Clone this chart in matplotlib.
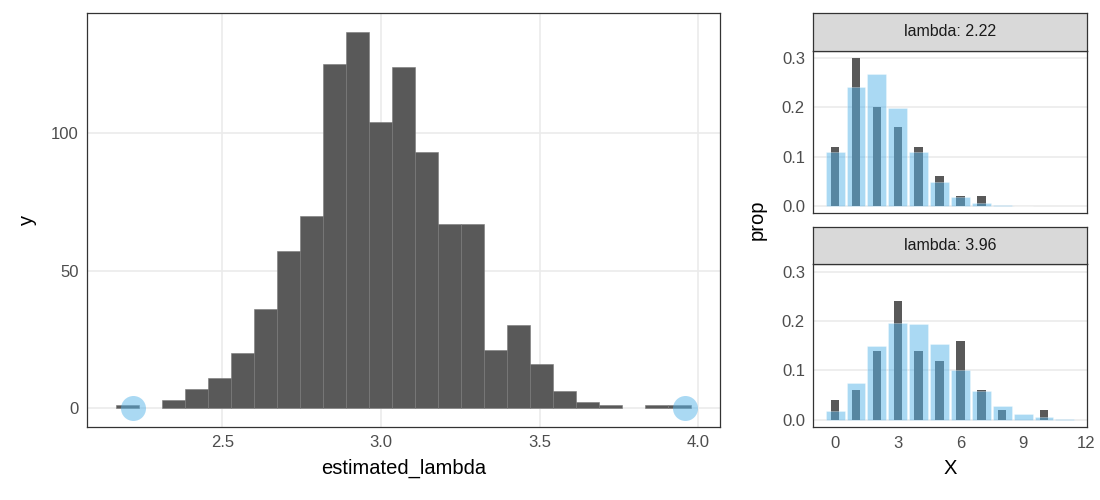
import matplotlib
matplotlib.use("Agg")
import matplotlib.pyplot as plt
import numpy as np

plt.rcParams['font.family'] = ['Liberation Sans', 'DejaVu Sans']

# ---- data ----
bin_start = 2.165
bin_width = 0.0725
hist_counts = [1, 0, 3, 7, 11, 20, 36, 57, 70, 125, 137, 104, 124, 93, 67, 67,
               21, 30, 16, 6, 2, 1, 0, 1, 1]
highlight_lambdas = [2.217, 3.958]

facet_labels = ["lambda: 2.22", "lambda: 3.96"]
x_vals_a = [0, 1, 2, 3, 4, 5, 6, 7, 8, 9]
pmf_a = [0.109, 0.241, 0.268, 0.198, 0.110, 0.049, 0.018, 0.006, 0.002, 0.0005]
sample_x_a = [0, 1, 2, 3, 4, 5, 6, 7]
sample_prop_a = [0.12, 0.30, 0.20, 0.16, 0.12, 0.06, 0.02, 0.02]

x_vals_b = [0, 1, 2, 3, 4, 5, 6, 7, 8, 9, 10, 11]
pmf_b = [0.019, 0.075, 0.149, 0.197, 0.195, 0.154, 0.102, 0.058, 0.028, 0.012, 0.005, 0.002]
sample_x_b = [0, 1, 2, 3, 4, 5, 6, 7, 8, 10]
sample_prop_b = [0.04, 0.06, 0.14, 0.24, 0.14, 0.12, 0.16, 0.06, 0.02, 0.02]

x_ticks = [0, 3, 6, 9, 12]
prop_ticks = [0.0, 0.1, 0.2, 0.3]
count_ticks = [0, 50, 100]
lam_ticks = [2.5, 3.0, 3.5, 4.0]

# ---- style ----
DARK = '#595959'
BLUE = '#56B4E9'
GRID = '#EBEBEB'
BORDER = '#333333'
TICKC = '#4D4D4D'
W, H = 1100, 500

fig = plt.figure(figsize=(11, 5), dpi=100)


def px_axes(x0, y0, x1, y1):
    return fig.add_axes([x0 / W, 1 - y1 / H, (x1 - x0) / W, (y1 - y0) / H])


def style(ax):
    ax.set_facecolor('white')
    for s in ax.spines.values():
        s.set_color(BORDER)
        s.set_linewidth(0.9)
    ax.tick_params(length=0, labelsize=12, labelcolor=TICKC, pad=6)
    ax.set_axisbelow(True)


# ---- left histogram ----
ax = px_axes(87.3, 12.7, 720, 426.7)
style(ax)
nb = len(hist_counts)
edges_left = bin_start + bin_width * np.arange(nb)
edge_cols = ['#7a7a7a' if c > 0 else 'none' for c in hist_counts]
ax.bar(edges_left, hist_counts, width=bin_width, align='edge', color=DARK,
       edgecolor=edge_cols, linewidth=0.4, zorder=2)
ax.plot(highlight_lambdas, [0, 0], 'o', color=BLUE, alpha=0.5, markersize=18,
        markeredgewidth=0, zorder=3)
lo, hi = bin_start, bin_start + nb * bin_width
pad = (hi - lo) * 0.05
ax.set_xlim(lo - pad, hi + pad)
ymax = max(hist_counts)
ax.set_ylim(-0.05 * ymax, 1.05 * ymax)
ax.set_xticks(lam_ticks)
ax.set_xticklabels([f"{t:.1f}" for t in lam_ticks])
ax.set_yticks(count_ticks)
ax.grid(True, color=GRID, linewidth=1.2)
ax.set_xlabel("estimated_lambda", fontsize=14.5, color='black', labelpad=6)
ax.set_ylabel("y", fontsize=14.5, color='black', labelpad=10)

# ---- right facets ----
panels = [
    (50.7, 213.3, 13.3, facet_labels[0], x_vals_a, pmf_a, sample_x_a, sample_prop_a, False),
    (264.3, 427.3, 226.7, facet_labels[1], x_vals_b, pmf_b, sample_x_b, sample_prop_b, True),
]
xlo, xhi = -0.45, max(x_vals_b) + 0.45
xpad = (xhi - xlo) * 0.05
pmax = 0.30
axes_r = []
for (y0, y1, ys, lab, xv, pv, sx, sp, show_x) in panels:
    a = px_axes(813.3, y0, 1086.7, y1)
    style(a)
    a.bar(sx, sp, width=0.4, color=DARK, linewidth=0, zorder=2)
    a.bar(xv, pv, width=0.9, color=BLUE, alpha=0.5, edgecolor='white', linewidth=0.4, zorder=3)
    a.set_xlim(xlo - xpad, xhi + xpad)
    a.set_ylim(-0.05 * pmax, 1.05 * pmax)
    a.set_yticks(prop_ticks)
    a.set_yticklabels([f"{t:.1f}" for t in prop_ticks])
    a.set_xticks(x_ticks)
    a.grid(True, axis='y', color=GRID, linewidth=1.2)
    if not show_x:
        a.tick_params(labelbottom=False)
    # strip
    s = px_axes(813.3, ys, 1086.7, y0)
    s.set_facecolor('#D9D9D9')
    s.set_xticks([]); s.set_yticks([])
    for sp_ in s.spines.values():
        sp_.set_color(BORDER)
        sp_.set_linewidth(0.9)
    s.text(0.5, 0.5, lab, ha='center', va='center', fontsize=11.5, color='#1A1A1A',
           transform=s.transAxes)
    axes_r.append(a)

axes_r[1].set_xlabel("X", fontsize=14.5, color='black', labelpad=6)
fig.text(757 / W, 1 - 220 / H, "prop", rotation=90, ha='center', va='center',
         fontsize=14.5, color='black')

fig.savefig("out.png", dpi=100, facecolor='white')
